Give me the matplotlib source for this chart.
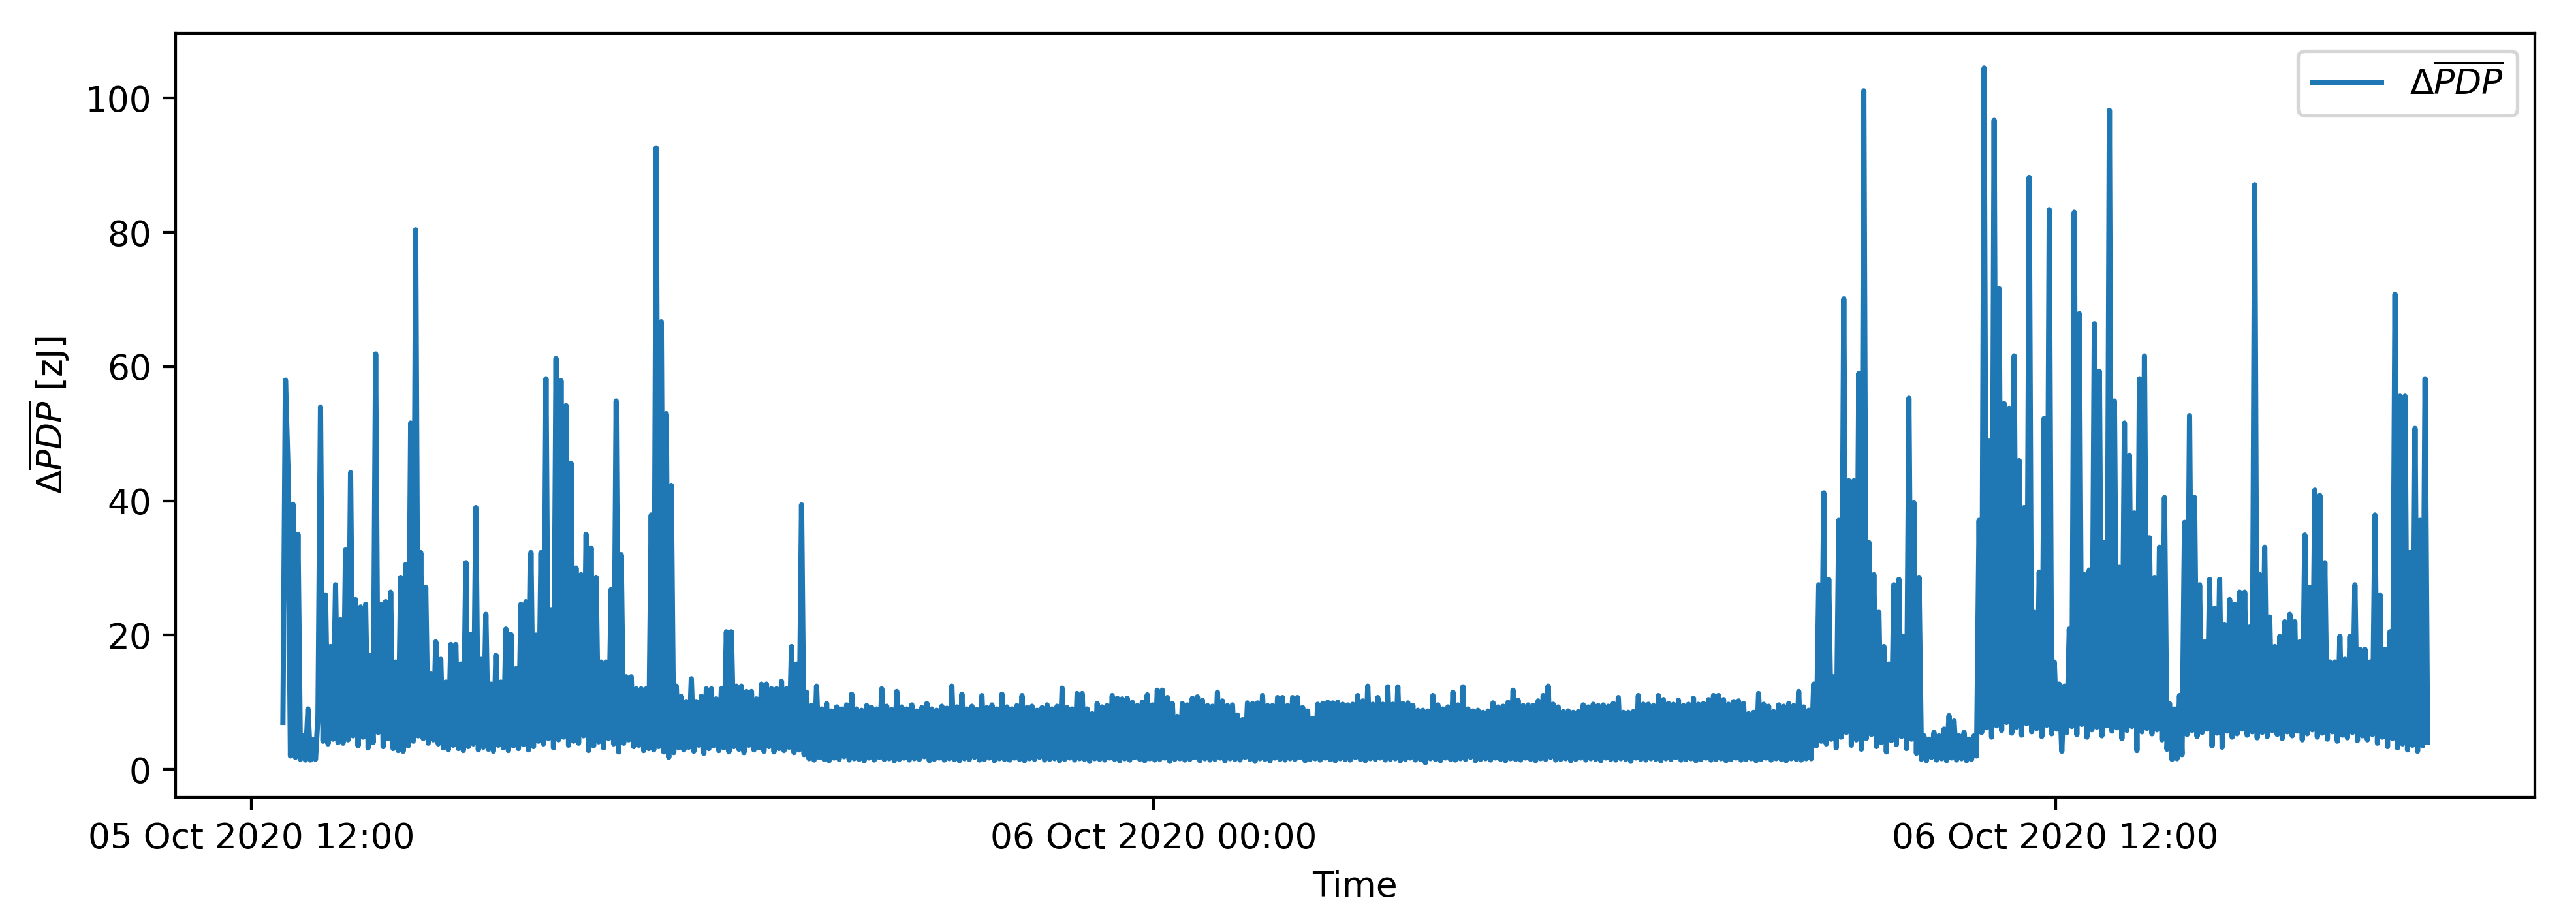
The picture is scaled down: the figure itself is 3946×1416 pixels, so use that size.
import numpy as np
import pandas as pd
import matplotlib
matplotlib.use('Agg')
import matplotlib.pyplot as plt
import matplotlib.dates as mdates

# one sample every 2 minutes, first sample at 05 Oct 2020 12:25
start_time = '2020-10-05 12:25'
sample_step = '2min'

# 05 Oct 12:25 - 19:23 (busy afternoon, trace swings between ~3 and the spikes)
afternoon_5oct = [
    7, 58, 45, 2, 39.5, 1.8, 35, 1.5, 5, 1.4, 9, 1.4, 4.5, 1.5, 8,
    54, 4.2, 26, 3.8, 18.3, 4.5, 27.5, 4, 22.3, 3.9, 32.7, 4.4, 44.2, 5, 25.3, 3.5,
    24.2, 4.8, 24.6, 3.2, 17, 4, 61.9, 5.5, 24.6, 3.4, 25, 4.6, 26.4, 3.1, 16, 2.8,
    28.6, 2.7, 30.5, 3.5, 51.6, 4.2, 80.4, 5, 32.3, 4.6, 27.1, 3.9, 14.2, 4.4,
    19, 3.8, 16.4, 3.2, 13, 2.9, 18.6, 3.6, 18.6, 3.1, 15.7, 2.8, 30.8, 3.4, 20.1, 3.8,
    39, 2.9, 16.4, 3.3, 23.1, 3, 12.7, 2.7, 17, 3.6, 13, 3.2, 20.9, 2.8, 20.1, 3.5,
    15, 3.1, 24.6, 3.7, 25, 2.9, 32.3, 3.4, 20, 4.2, 32.3, 3.8, 58.2, 4.6, 23.8, 3.2,
    61.2, 4.4,
    57.9, 4.8, 54.2, 3.6, 45.6, 4.2, 30, 3.9, 29, 5, 35, 2.8, 33, 3.5, 28.6, 4.1,
    16, 3.2, 16, 4.6, 26.8, 3.8, 54.9, 2.6, 32, 3.9, 13.8, 4.4, 13.8, 3.4, 12, 3.6,
    12, 2.8, 12, 3.1, 37.9, 2.9, 92.6, 3.4, 66.7, 2.6, 53, 1.8, 42.3, 2.5, 12.4, 3.2,
    10.9, 2.9,
    10.1, 3.3, 13.5, 2.7, 10.1, 3.6, 10.9, 2.4, 12, 3.1, 12, 3.5, 10.5, 2.8, 12, 3.2,
    20.5, 2.6, 20.5, 3.4, 12.4, 3, 12.4, 2.5, 11.6, 3.6, 11.6, 2.9, 10.5, 3.2, 12.7, 2.7,
    12.7, 3.4, 12, 2.6, 12, 3.1, 13.1, 2.8, 12, 3.3, 18.3, 2.5, 15.7, 2.9, 39.4, 2.2,
    11.5,
]

# 05 Oct 19:25 - 06 Oct 08:43 (quiet night)
night = [
    1.6, 9.5, 1.4, 12.4, 1.8, 9, 1.5, 9.8, 1.3, 8.7, 1.7, 9.3, 1.5, 9, 1.9, 9.6, 1.4, 11.2, 1.6, 9,
    1.5, 8.8, 1.3, 9.5, 1.7, 9.2, 1.4, 9, 1.8, 12, 1.5, 9.4, 1.6, 8.9, 1.3, 11.6, 1.5, 9.3, 1.7, 9,
    1.4, 9.6, 1.6, 8.7, 1.5, 9.2, 1.9, 9.8, 1.3, 9, 1.5, 8.8, 1.7, 9.4, 1.4, 9.1, 1.6, 12.4, 1.5, 9.3,
    1.3, 11.2, 1.6, 9, 1.5, 9.4, 1.8, 8.9, 1.4, 11, 1.5, 9.2, 1.7, 9.6, 1.3, 9, 1.6, 11.2, 1.5, 9.3,
    1.4, 9, 1.7, 9.5, 1.5, 11, 1.3, 9.2, 1.6, 9.4, 1.5, 8.8, 1.8, 9.2, 1.4, 9.6, 1.5, 9, 1.6, 9.4,
    1.3, 12.1, 1.5, 9.2, 1.7, 9, 1.4, 11.3, 1.6, 11.3, 1.5, 9, 1.2, 8.3, 1.6, 9.8, 1.5, 9.3, 1.4, 9.5,
    1.7, 11, 1.5, 10.6, 1.3, 10.5, 1.6, 10.6, 1.4, 10, 1.8, 9.5, 1.5, 10, 1.3, 11.1, 1.6, 9.6, 1.4, 11.8,
    1.5, 11.8, 1.7, 10.7, 1.2, 9.8, 1.5, 7.9, 1.6, 9.8, 1.4, 9.6, 1.5, 10.6, 1.8, 10.8, 1.3, 10.3, 1.6, 9.5,
    1.4, 9.4, 1.5, 11.5, 1.7, 10.2, 1.3, 9.5, 1.6, 9.6, 1.5, 8.1, 1.4, 7.4, 1.8, 9.9, 1.5, 9.8, 1.2, 9.9,
    1.6, 11, 1.5, 9.5, 1.3, 9.5, 1.7, 10.7, 1.5, 10.7, 1.4, 9.5, 1.6, 10.7, 1.5, 10.7, 1.8, 9.2, 1.3, 8.7,
    1.5, 7.6, 1.6, 9.7, 1.4, 9.8, 1.7, 10, 1.5, 9.9, 1.3, 10, 1.6, 9.7, 1.5, 9.6, 1.4, 9.7, 1.8, 11,
    1.5, 10.2, 1.3, 12.4, 1.6, 9.7, 1.5, 10.7, 1.7, 9.7, 1.4, 12.3, 1.5, 9.7, 1.6, 12.3, 1.3, 9.8, 1.5, 9.9,
    1.7, 9.5, 1.4, 8.8, 1.5, 8.8, 1.0, 8.7, 1.6, 11, 1.5, 9.6, 1.3, 9, 1.7, 9.3, 1.5, 11.5, 1.4, 9.6,
    1.6, 12.3, 1.5, 9, 1.8, 8.7, 1.3, 8.8, 1.5, 8.5, 1.6, 8.7, 1.4, 9.9, 1.7, 9.3, 1.5, 9.4, 1.3, 10,
    1.6, 11.8, 1.5, 10.3, 1.4, 9.5, 1.7, 9.6, 1.5, 9.5, 1.3, 10.2, 1.6, 11, 1.5, 12.4, 1.8, 9.7, 1.4, 9.3,
    1.5, 8.6, 1.6, 8.7, 1.3, 8.5, 1.5, 8.6, 1.7, 9.6, 1.4, 9.3, 1.6, 9.7, 1.5, 9.5, 1.3, 9.6, 1.7, 9.4,
    1.5, 9.8, 1.4, 10.7, 1.6, 8.5, 1.5, 8.5, 1.2, 8.6, 1.7, 11, 1.5, 9.7, 1.4, 9.7, 1.6, 9.5, 1.5, 11,
    1.3, 10.4, 1.6, 9.8, 1.5, 9.7, 1.8, 10.3, 1.4, 9.5, 1.5, 9.7, 1.6, 10.6, 1.3, 9.7, 1.5, 9.8, 1.7, 10.4,
    1.4, 11, 1.5, 11, 1.6, 10.4, 1.3, 9.7, 1.5, 10.1, 1.7, 10.2, 1.4, 9.8, 1.5, 8.3, 1.6, 8.5, 1.3, 11.3,
    1.5, 9.7, 1.7, 9.4, 1.4, 8.6, 1.6, 9.6, 1.5, 9.4, 1.3, 9.8, 1.6, 9.5, 1.5, 11.6, 1.4, 9.3, 1.6, 8.8,
]

# 06 Oct 08:45 - 16:57 (activity returns, largest spikes)
day_6oct = [
    1.6, 12.7, 3.5, 27.5, 4.2, 41.2, 3.8, 28.3, 4.5, 13.8, 3.2, 37.1, 4.8, 70.1, 5.5, 43, 3.6, 43, 4.4, 59,
    3, 101.1, 4.6, 33.8, 5.2, 29, 3.4, 23.4, 4, 18.3, 2.6, 15.7, 4.3, 27.5, 3.7, 28.3, 4.9, 19.8, 3.1, 55.3,
    4.5, 39.7, 2.4, 28.6, 1.5, 5, 1.3, 4.5, 1.8, 5.5, 1.4, 5, 1.6, 6, 1.3, 8, 1.7, 7.2, 1.4, 5,
    1.6, 5.5, 1.3, 4.5, 1.5, 5, 2, 37.1, 5.5, 104.5, 6.2, 49, 4.8, 96.7, 6.5, 71.6, 5.8, 54.5, 7, 53.8,
    5.4, 61.6, 6.3, 46, 5.1, 39, 6.8, 88.2, 5.6, 23.4, 6.1, 29.4, 4.9, 52.3, 6.6, 83.4, 5.3, 16, 6, 12.7,
    2.7, 12.4, 5.5, 20.9, 6.4, 83, 5.2, 67.9, 6.7, 29, 4.8, 29.7, 5.9, 66.4, 6.3, 59.3, 5, 33.8, 6.5, 98.2,
    5.7, 54.9, 6.2, 30.1, 4.6, 51.6, 5.8, 46.8, 6.4, 38.2, 2.8, 58.2, 5.6, 61.6, 6.1, 34.5, 5.3, 28.6, 5.9, 33.1,
    4.4, 40.5, 3, 9.8, 1.5, 9, 1.6, 11, 2.2, 36.8, 5.2, 52.7, 5.8, 40.5, 4.9, 27.5, 5.5, 19, 6, 28.3,
    3.5, 24, 5.4, 28.3, 3.3, 21.6, 5.7, 25.3, 4.8, 24.6, 5.3, 26.4, 6, 26.4, 5.1, 21.2, 5.6, 87.1, 4.7, 29,
    5.5, 33.1, 4.9, 22.7, 5.8, 18.3, 5.2, 19.8, 4.6, 22, 5.6, 23.1, 5, 22, 5.7, 19, 4.4, 34.9, 5.3, 27.1,
    5.9, 41.6, 4.8, 40.8, 5.4, 30.8, 4.5, 16, 5.6, 16, 4.2, 19.8, 5.1, 16.4, 4.7, 19.8, 5.5, 27.5, 4.3, 17.9,
    5, 17.9, 4.4, 16, 5.2, 37.9, 3.9, 26, 4.8, 17.9, 3.4, 20.5, 4.6, 70.8, 3.2, 55.6, 3.8, 55.6, 2.9, 32.3,
    3.6, 50.8, 2.7, 37.1, 3.5, 58.2, 4,
]

values = np.array(afternoon_5oct + night + day_6oct)
times = pd.date_range(start_time, periods=len(values), freq=sample_step)

dpi = 384
fig, ax = plt.subplots(figsize=(3946 / dpi, 1416 / dpi), dpi=dpi)
ax.plot(times, values, label=r'$\Delta\overline{PDP}$')

ax.xaxis.set_major_locator(mdates.HourLocator(byhour=[0, 12]))
ax.xaxis.set_major_formatter(mdates.DateFormatter('%d %b %Y %H:%M'))
ax.set_xlabel('Time')
ax.set_ylabel(r'$\Delta\overline{PDP}$ [zJ]')
ax.legend(loc='upper right')

fig.subplots_adjust(left=0.0682, right=0.984, bottom=0.137, top=0.964)
fig.savefig('out.png', dpi=dpi)
